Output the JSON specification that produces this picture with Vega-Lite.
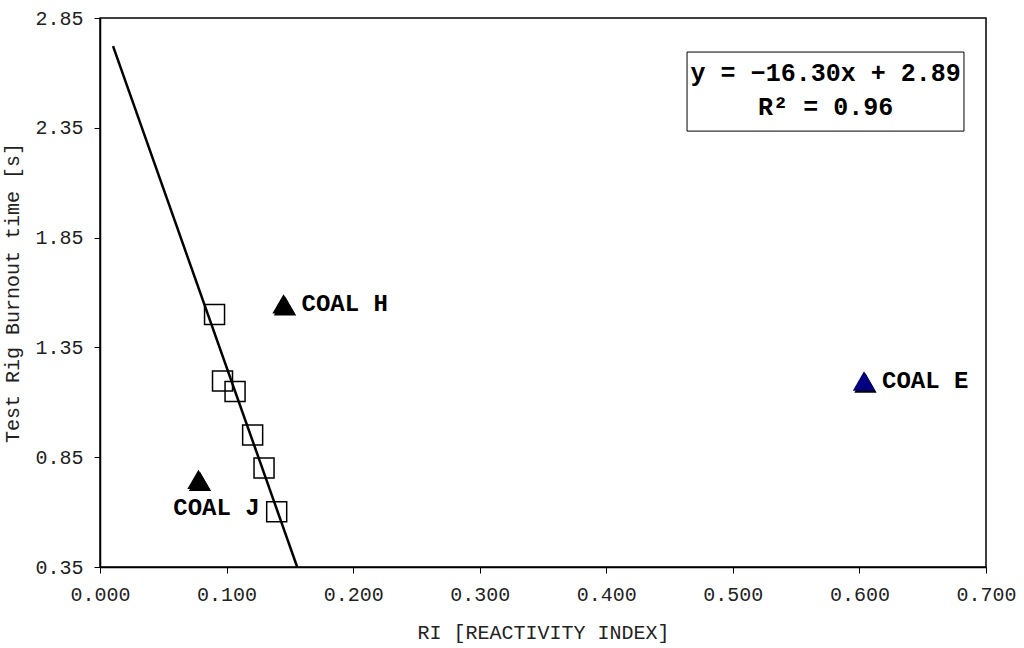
{
  "$schema": "https://vega.github.io/schema/vega-lite/v6.json",
  "autosize": {"type": "none"},
  "width": 886,
  "height": 549,
  "padding": {"left": 100, "top": 18, "right": 38, "bottom": 81},
  "background": "white",
  "config": {
    "view": {"stroke": "black", "strokeWidth": 1.5},
    "font": "Liberation Mono",
    "axis": {
      "grid": false,
      "labelFlush": false,
      "labelOverlap": false,
      "domainColor": "black",
      "domainWidth": 1.5,
      "tickColor": "black",
      "tickWidth": 1,
      "tickSize": 6,
      "labelFont": "Liberation Mono",
      "labelFontSize": 20,
      "labelColor": "#222222",
      "titleFont": "Liberation Mono",
      "titleFontSize": 20,
      "titleFontWeight": "normal",
      "titleColor": "#222222"
    }
  },
  "datasets": {
    "squares": [
      {"ri": 0.0905, "t": 1.50},
      {"ri": 0.0968, "t": 1.197},
      {"ri": 0.1067, "t": 1.149},
      {"ri": 0.1206, "t": 0.951},
      {"ri": 0.1296, "t": 0.801},
      {"ri": 0.1396, "t": 0.602}
    ],
    "coals": [
      {"ri": 0.145, "t": 1.548, "coal": "COAL H"},
      {"ri": 0.0778, "t": 0.749, "coal": "COAL J"},
      {"ri": 0.6036, "t": 1.197, "coal": "COAL E"}
    ],
    "fit": [
      {"ri": 0.0103, "t": 2.722},
      {"ri": 0.1558, "t": 0.35}
    ],
    "box": [
      {"x1": 0.4638, "x2": 0.6826, "y1": 2.695, "y2": 2.335}
    ],
    "eq": [
      {"ri": 0.5733, "t": 2.60, "label": "y = −16.30x + 2.89"},
      {"ri": 0.5733, "t": 2.445, "label": "R² = 0.96"}
    ]
  },
  "layer": [
    {
      "data": {"name": "box"},
      "mark": {"type": "rect", "fill": "white", "stroke": "black", "strokeWidth": 1},
      "encoding": {
        "x": {"field": "x1", "type": "quantitative", "scale": {"domain": [0, 0.7], "nice": false, "zero": false}},
        "x2": {"field": "x2"},
        "y": {"field": "y1", "type": "quantitative", "scale": {"domain": [0.35, 2.85], "nice": false, "zero": false}},
        "y2": {"field": "y2"}
      }
    },
    {
      "data": {"name": "eq"},
      "mark": {"type": "text", "font": "Liberation Mono", "fontSize": 25, "fontWeight": "bold", "align": "center", "baseline": "middle", "color": "black"},
      "encoding": {
        "x": {"field": "ri", "type": "quantitative"},
        "y": {"field": "t", "type": "quantitative"},
        "text": {"field": "label"}
      }
    },
    {
      "data": {"name": "fit"},
      "mark": {"type": "line", "color": "black", "strokeWidth": 2.5},
      "encoding": {
        "x": {"field": "ri", "type": "quantitative",
              "scale": {"domain": [0, 0.7], "nice": false, "zero": false},
              "axis": {"values": [0, 0.1, 0.2, 0.3, 0.4, 0.5, 0.6, 0.7], "format": ".3f", "labelPadding": 11, "title": "RI [REACTIVITY INDEX]", "titlePadding": 18}},
        "y": {"field": "t", "type": "quantitative",
              "scale": {"domain": [0.35, 2.85], "nice": false, "zero": false},
              "axis": {"values": [0.35, 0.85, 1.35, 1.85, 2.35, 2.85], "format": ".2f", "labelPadding": 11, "title": "Test Rig Burnout time [s]", "titlePadding": 12}}
      }
    },
    {
      "data": {"name": "squares"},
      "mark": {"type": "point", "shape": "square", "size": 400, "filled": false, "stroke": "black", "strokeWidth": 1.5, "opacity": 1},
      "encoding": {
        "x": {"field": "ri", "type": "quantitative"},
        "y": {"field": "t", "type": "quantitative"}
      }
    },
    {
      "data": {"name": "coals"},
      "mark": {"type": "point", "shape": "triangle-up", "size": 500, "filled": true, "color": "black", "opacity": 1, "xOffset": 1.5, "yOffset": 2},
      "encoding": {
        "x": {"field": "ri", "type": "quantitative"},
        "y": {"field": "t", "type": "quantitative"}
      }
    },
    {
      "data": {"name": "coals"},
      "mark": {"type": "point", "shape": "triangle-up", "size": 500, "filled": true, "opacity": 1},
      "encoding": {
        "x": {"field": "ri", "type": "quantitative"},
        "y": {"field": "t", "type": "quantitative"},
        "color": {"field": "coal", "type": "nominal", "scale": {"domain": ["COAL H", "COAL J", "COAL E"], "range": ["black", "black", "#000080"]}, "legend": null}
      }
    },
    {
      "data": {"name": "coals"},
      "transform": [{"filter": "datum.coal !== 'COAL J'"}],
      "mark": {"type": "text", "font": "Liberation Mono", "fontSize": 24, "fontWeight": "bold", "align": "left", "baseline": "middle", "dx": 18, "dy": 0, "color": "black"},
      "encoding": {
        "x": {"field": "ri", "type": "quantitative"},
        "y": {"field": "t", "type": "quantitative"},
        "text": {"field": "coal"}
      }
    },
    {
      "data": {"name": "coals"},
      "transform": [{"filter": "datum.coal === 'COAL J'"}],
      "mark": {"type": "text", "font": "Liberation Mono", "fontSize": 24, "fontWeight": "bold", "align": "center", "baseline": "middle", "dx": 18, "dy": 29, "color": "black"},
      "encoding": {
        "x": {"field": "ri", "type": "quantitative"},
        "y": {"field": "t", "type": "quantitative"},
        "text": {"field": "coal"}
      }
    }
  ]
}
